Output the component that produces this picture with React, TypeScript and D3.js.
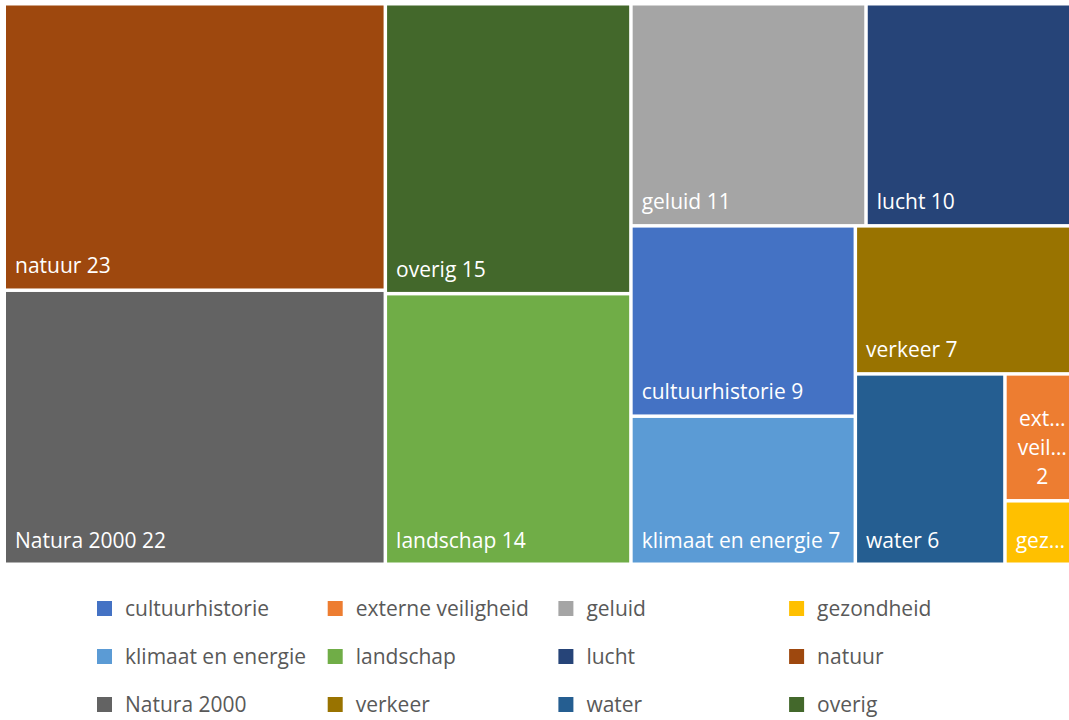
import { useMemo } from 'react';
import * as d3 from 'd3';

const categories = [
  'cultuurhistorie',
  'externe veiligheid',
  'geluid',
  'gezondheid',
  'klimaat en energie',
  'landschap',
  'lucht',
  'natuur',
  'Natura 2000',
  'verkeer',
  'water',
  'overig',
];
const counts = [9, 2, 11, 1, 7, 14, 10, 23, 22, 7, 6, 15];
const colors = [
  '#4472C4', '#ED7D31', '#A5A5A5', '#FFC000',
  '#5B9BD5', '#70AD47', '#264478', '#9E480E',
  '#636363', '#997300', '#255E91', '#43682B',
];

const WIDTH = 1069;
const HEIGHT = 720;
const FONT_SIZE = 21;
const FONT = `${FONT_SIZE}px 'Open Sans'`;
const LABEL_PAD = 9;
const LINE_H = 29;

interface Leaf {
  name: string;
  value: number;
  color: string;
}

// measure text with a canvas so long labels can be cut like Excel does
let ctx: CanvasRenderingContext2D | null = null;
const measure = (s: string): number => {
  if (!ctx) {
    ctx = document.createElement('canvas').getContext('2d');
    if (ctx) ctx.font = FONT;
  }
  return ctx ? ctx.measureText(s).width : s.length * 10;
};

const truncate = (s: string, maxW: number): string => {
  if (measure(s) <= maxW) return s;
  let t = s;
  while (t.length > 1 && measure(t + '…') > maxW) t = t.slice(0, -1);
  return t + '…';
};

const wrap = (label: string, maxW: number): string[] => {
  const words = label.split(' ');
  const lines: string[] = [];
  let cur = '';
  words.forEach(w => {
    const test = cur ? cur + ' ' + w : w;
    if (measure(test) <= maxW) cur = test;
    else {
      if (cur) lines.push(cur);
      cur = w;
    }
  });
  if (cur) lines.push(cur);
  return lines.map(l => truncate(l, maxW));
};

const App = () => {
  const leaves = useMemo(() => {
    const data: Leaf[] = categories.map((name, i) => ({ name, value: counts[i], color: colors[i] }));
    const root = d3
      .hierarchy<any>({ children: data })
      .sum(d => d.value || 0)
      .sort((a, b) => (b.value || 0) - (a.value || 0));
    d3.treemap<any>()
      .tile(d3.treemapSquarify.ratio(1))
      .size([1072, 557])
      .paddingInner(3.5)(root);
    return root.leaves() as d3.HierarchyRectangularNode<Leaf>[];
  }, []);

  // legend grid
  const legendCol = d3.scaleLinear().domain([0, 1]).range([97, 97 + 230.7]);
  const legendRow = d3.scaleLinear().domain([0, 1]).range([608.5, 608.5 + 48]);

  return (
    <svg
      width={WIDTH}
      height={HEIGHT}
      style={{ position: 'absolute', left: 0, top: 0, background: '#fff' }}
      fontFamily="'Open Sans', sans-serif"
    >
      <g transform="translate(6,5.5)">
        {leaves.map(d => {
          const w = d.x1 - d.x0;
          const h = d.y1 - d.y0;
          const label = `${d.data.name} ${d.data.value}`;
          const visW = w - 2 * LABEL_PAD;
          const baseY = d.y1 - 15;
          let text;
          if (measure(label) <= visW) {
            text = (
              <text x={d.x0 + LABEL_PAD} y={baseY} fill="#fff" fontSize={FONT_SIZE}>
                {label}
              </text>
            );
          } else {
            const lines = wrap(label, visW);
            if (lines.length * LINE_H + 2 * LABEL_PAD <= h) {
              text = (
                <text textAnchor="middle" fill="#fff" fontSize={FONT_SIZE}>
                  {lines.map((l, i) => (
                    <tspan key={i} x={(d.x0 + d.x1) / 2} y={baseY - (lines.length - 1 - i) * LINE_H}>
                      {l}
                    </tspan>
                  ))}
                </text>
              );
            } else {
              text = (
                <text x={d.x0 + LABEL_PAD} y={baseY} fill="#fff" fontSize={FONT_SIZE}>
                  {truncate(d.data.name, visW)}
                </text>
              );
            }
          }
          return (
            <g key={d.data.name}>
              <rect x={d.x0} y={d.y0} width={w} height={h} fill={d.data.color} />
              {text}
            </g>
          );
        })}
      </g>
      <g>
        {categories.map((name, i) => {
          const cx = legendCol(i % 4);
          const cy = legendRow(Math.floor(i / 4));
          return (
            <g key={name}>
              <rect x={cx} y={cy - 7.5} width={15} height={15} fill={colors[i]} />
              <text x={cx + 28} y={cy + 7.5} fill="#595959" fontSize={FONT_SIZE}>
                {name}
              </text>
            </g>
          );
        })}
      </g>
    </svg>
  );
};

export default App;
